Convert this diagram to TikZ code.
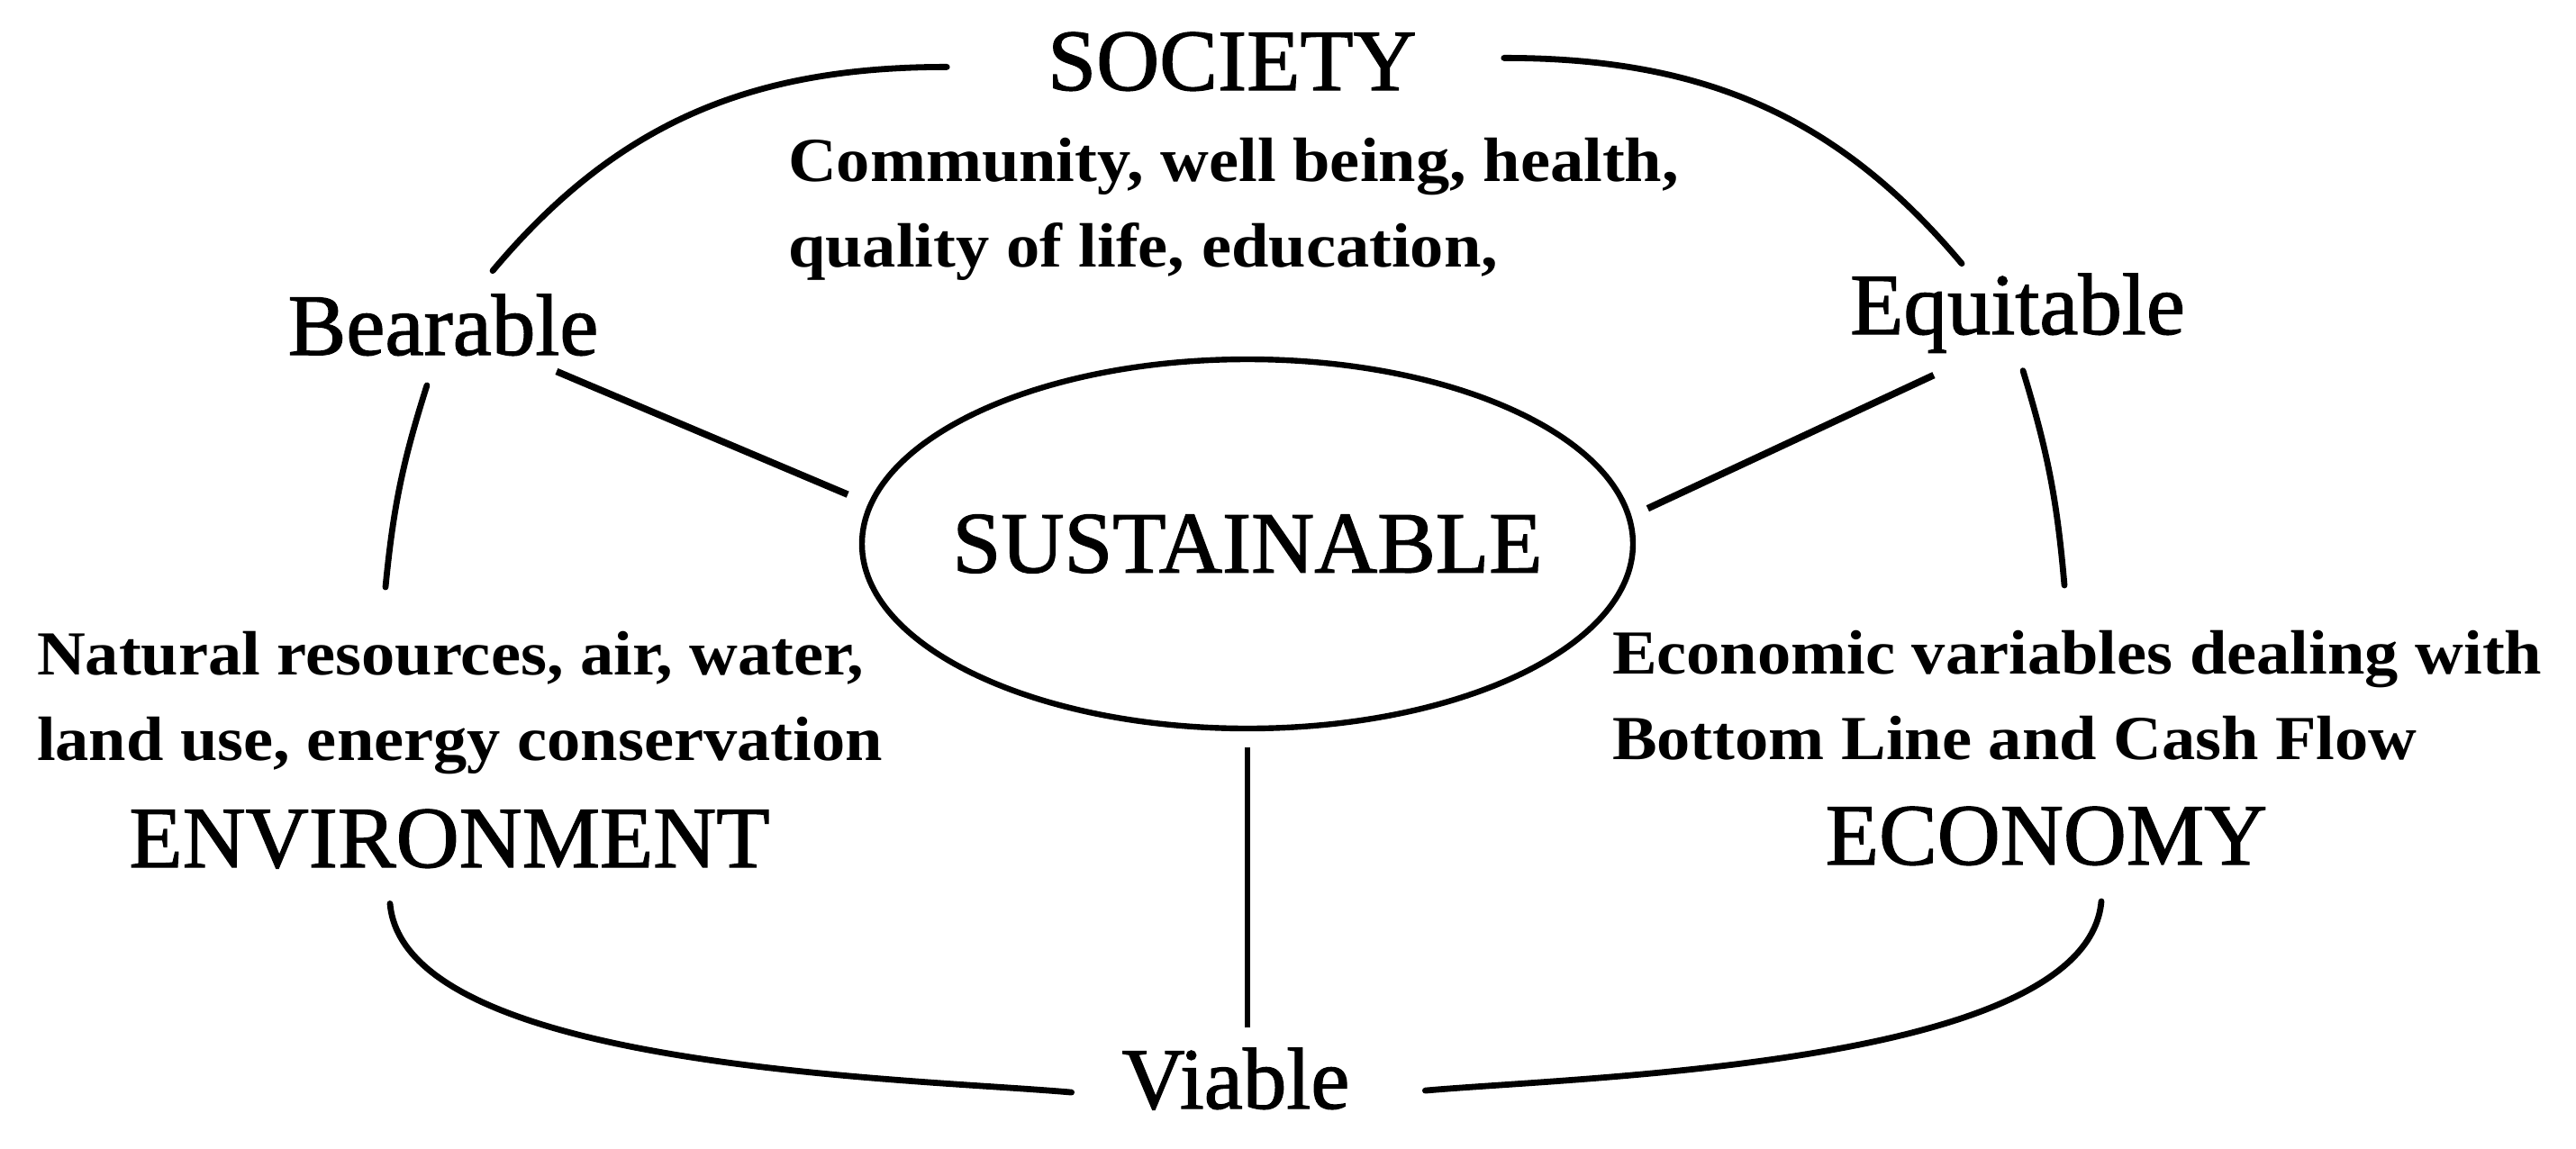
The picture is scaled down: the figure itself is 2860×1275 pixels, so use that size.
\documentclass[tikz,border=0pt]{standalone}
\usepackage{fontspec}
\setmainfont{Liberation Serif}
\newfontfamily\labelfont[FakeBold=1.3]{Liberation Serif}
\newfontfamily\descfont[FakeStretch=1.07]{Liberation Serif}
\usetikzlibrary{positioning,shapes.geometric,calc}

\begin{document}
\begin{tikzpicture}[x=0.25pt,y=-0.25pt,
    bigword/.style={inner sep=0pt, outer sep=0pt, font=\labelfont\fontsize{24.25}{29}\selectfont},
    smalltext/.style={inner sep=0pt, outer sep=0pt, align=left, font=\descfont\bfseries\fontsize{17.4}{23.75}\selectfont},
    ring/.style={line width=1.7pt, line cap=round},
    spoke/.style={line width=1.9pt}]

    \useasboundingbox (0,0) rectangle (2860,1275);

    % Centre
    \node[ellipse, draw, line width=1.6pt, minimum width=214pt, minimum height=102.5pt, inner sep=0pt, outer sep=0pt,
          font=\labelfont\fontsize{24.25}{29}\selectfont] (sust) at (1385,604) {\makebox[0pt]{SUSTAINABLE}};

    % Society
    \node[bigword, anchor=base] (society) at (1368,100) {SOCIETY};
    \node[smalltext, anchor=north west] (soctext) at (875,153) {Community, well being, health,\\ quality of life, education,};

    % Bearable and Equitable
    \node[bigword, anchor=base] (bearable) at (492,394) {Bearable};
    \node[bigword, anchor=base] (equitable) at (2240,371) {Equitable};

    % Environment
    \node[smalltext, anchor=north west] (envtext) at (41,701) {Natural resources, air, water,\\ land use, energy conservation};
    \node[bigword, anchor=base] (environment) at (499,963) {ENVIRONMENT};

    % Economy
    \node[smalltext, anchor=north west] (ecotext) at (1790,700) {Economic variables dealing with\\ Bottom Line and Cash Flow};
    \node[bigword, anchor=base] (economy) at (2272,960) {ECONOMY};

    % Viable
    \node[bigword, anchor=base] (viable) at (1372,1231) {Viable};

    % Spokes to the centre
    \draw[spoke, shorten <=11.25pt, shorten >=7pt] (bearable.-22.8) -- (sust.174.8);
    \draw[spoke, shorten <=14.75pt, shorten >=5.75pt] (equitable.228.7) -- (sust.4.9);
    \draw[spoke, line width=1.3pt, shorten <=5.25pt, shorten >=5.75pt] (sust.south) -- (sust.south |- viable.north);

    % Ends of the outer ring
    \coordinate (socL) at ($(society.west)+(-112,6)$);
    \coordinate (socR) at ($(society.east)+(97,-4)$);
    \coordinate (bearT) at ($(bearable.north)+(55,-26)$);
    \coordinate (bearB) at ($(bearable.south)+(-18,33)$);
    \coordinate (equT) at ($(equitable.north)+(-62,-11)$);
    \coordinate (equB) at ($(equitable.south)+(6,20)$);
    \coordinate (envT) at ($(envtext.north west)+(387,-49)$);
    \coordinate (envB) at ($(environment.south)+(-66,39)$);
    \coordinate (ecoT) at ($(ecotext.north west)+(502,-50)$);
    \coordinate (ecoB) at ($(economy.south)+(61,40)$);
    \coordinate (viaL) at ($(viable.west)+(-56,15)$);
    \coordinate (viaR) at ($(viable.east)+(84,13)$);

    % Outer ring
    \draw[ring] (socL) to[out=180,in=50] (bearT);
    \draw[ring] (socR) to[out=0,in=130] (equT);
    \draw[ring] (bearB) to[bend right=6] (envT);
    \draw[ring] (equB) to[bend left=6] (ecoT);
    \draw[ring] (envB) to[out=-85,in=175,looseness=0.6] (viaL);
    \draw[ring] (ecoB) to[out=-95,in=5,looseness=0.6] (viaR);
\end{tikzpicture}
\end{document}
